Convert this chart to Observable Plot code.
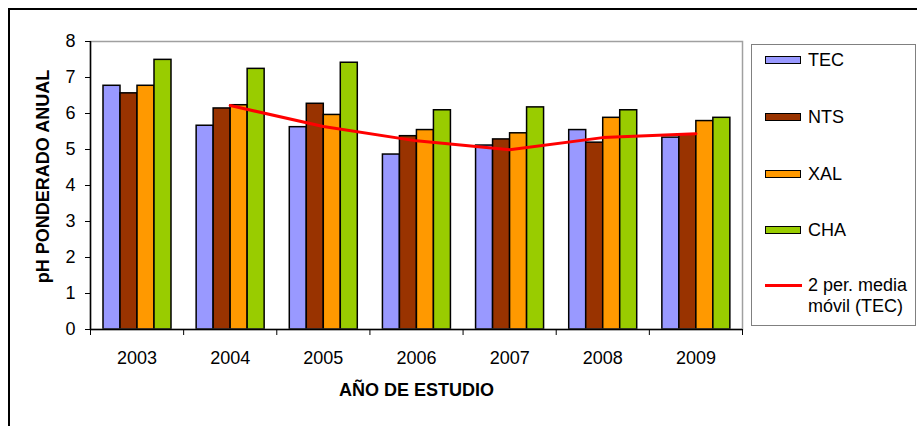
<!DOCTYPE html>
<html>
<head>
<meta charset="utf-8">
<script src="https://cdn.jsdelivr.net/npm/d3@7"></script>
<script src="https://cdn.jsdelivr.net/npm/@observablehq/plot@0.6"></script>
<style>
  body { margin: 0; background: #fff; overflow: hidden; }
  #wrap { position: relative; width: 917px; height: 426px; font-family: "Liberation Sans", Arial, sans-serif; color: #000; }
  #wrap svg { position: absolute; left: 0; top: 0; }
  #frame { position: absolute; left: 8px; top: 8px; width: 1000px; height: 1000px; border-left: 2px solid #000; border-top: 2px solid #000; }
  #legend { position: absolute; left: 751px; top: 44px; width: 163px; height: 280px; border: 1.5px solid #808080; background: #fff; }
  .sw { position: absolute; left: 13px; width: 34px; height: 6px; border: 1px solid #000; }
  .lt { position: absolute; left: 56px; font-size: 18px; line-height: 21px; white-space: nowrap; }
  .ln { position: absolute; left: 13px; width: 37px; height: 3px; background: #ff0000; }
</style>
</head>
<body>
<div id="wrap">
  <div id="frame"></div>
</div>
<script>
// ---- data ----
const years = [2003, 2004, 2005, 2006, 2007, 2008, 2009];
const series = ["TEC", "NTS", "XAL", "CHA"];
const tec = [6.77, 5.66, 5.62, 4.86, 5.11, 5.54, 5.33];
const nts = [6.56, 6.14, 6.27, 5.37, 5.28, 5.19, 5.41];
const xal = [6.77, 6.23, 5.96, 5.54, 5.45, 5.88, 5.79];
const cha = [7.49, 7.24, 7.41, 6.09, 6.17, 6.09, 5.88];
const mediaMovilTEC = [null, 6.22, 5.64, 5.24, 4.99, 5.33, 5.44];
const yTicks = [0, 1, 2, 3, 4, 5, 6, 7, 8];
const colors = ["#9999ff", "#993300", "#ff9900", "#99cc00"];
const lineLabel = ["2 per. media", "móvil (TEC)"];
const xTitle = "AÑO DE ESTUDIO";
const yTitle = "pH PONDERADO ANUAL";

const valuesBySeries = [tec, nts, xal, cha];
const rows = [];
years.forEach((yr, i) => series.forEach((s, k) => rows.push({year: yr, series: s, value: valuesBySeries[k][i]})));
const lineData = years.map((yr, i) => ({year: yr, v: mediaMovilTEC[i]})).filter(d => d.v != null);

const W = 917, H = 426;
const M = {marginLeft: 90, marginRight: 175, marginTop: 41, marginBottom: 97};
const font = {fontFamily: "'Liberation Sans', Arial, sans-serif", fontSize: "18px", color: "#000", background: "transparent"};

const wrap = document.getElementById("wrap");

// bars (faceted by year)
const bars = Plot.plot({
  width: W, height: H, ...M,
  style: font,
  fx: {domain: years, padding: 0, round: false, axis: null},
  x: {domain: series, paddingInner: 0, paddingOuter: 0.688, axis: null},
  y: {domain: [0, 8], axis: null},
  color: {domain: series, range: colors},
  marks: [
    Plot.barY(rows, {fx: "year", x: "series", y: "value", fill: "series", stroke: "#000", strokeWidth: 1.5})
  ]
});
wrap.appendChild(bars);

// axes, frame, moving average line, titles
const xDomain = [years[0] - 0.5, years[years.length - 1] + 0.5];
const bounds = years.map(y => y - 0.5).concat([xDomain[1]]);
const overlay = Plot.plot({
  width: W, height: H, ...M,
  style: font,
  x: {type: "linear", domain: xDomain},
  y: {domain: [0, 8]},
  marks: [
    Plot.frame({stroke: "#a0a0a0", strokeWidth: 1.5}),
    Plot.ruleY([0], {stroke: "#000", strokeWidth: 1.5}),
    Plot.ruleX([xDomain[0]], {stroke: "#000", strokeWidth: 1.5}),
    Plot.axisY({ticks: yTicks, tickSize: 5, tickPadding: 10, fontSize: 18, label: null}),
    Plot.axisX({ticks: bounds, tickSize: 6, tickFormat: () => "", label: null}),
    Plot.axisX({ticks: years, tickSize: 0, tickPadding: 22, tickFormat: d => String(d), fontSize: 18, label: null}),
    Plot.line(lineData, {x: "year", y: "v", stroke: "#ff0000", strokeWidth: 3}),
    Plot.text([xTitle], {frameAnchor: "bottom", dy: 66, fontWeight: "bold", fontSize: 18}),
    Plot.text([yTitle], {frameAnchor: "left", textAnchor: "middle", rotate: -90, dx: -47.5, dy: -9, fontWeight: "bold", fontSize: 18})
  ]
});
wrap.appendChild(overlay);

// legend
const legend = document.createElement("div");
legend.id = "legend";
const centers = [15, 72, 129, 185];
series.forEach((s, k) => {
  const sw = document.createElement("div");
  sw.className = "sw";
  sw.style.top = (centers[k] - 4) + "px";
  sw.style.background = colors[k];
  legend.appendChild(sw);
  const t = document.createElement("div");
  t.className = "lt";
  t.style.top = (centers[k] - 10.5) + "px";
  t.textContent = s;
  legend.appendChild(t);
});
const ln = document.createElement("div");
ln.className = "ln";
ln.style.top = (240 - 1.5) + "px";
legend.appendChild(ln);
lineLabel.forEach((txt, j) => {
  const t = document.createElement("div");
  t.className = "lt";
  t.style.top = (240 + j * 21 - 10.5) + "px";
  t.textContent = txt;
  legend.appendChild(t);
});
wrap.appendChild(legend);
</script>
</body>
</html>
